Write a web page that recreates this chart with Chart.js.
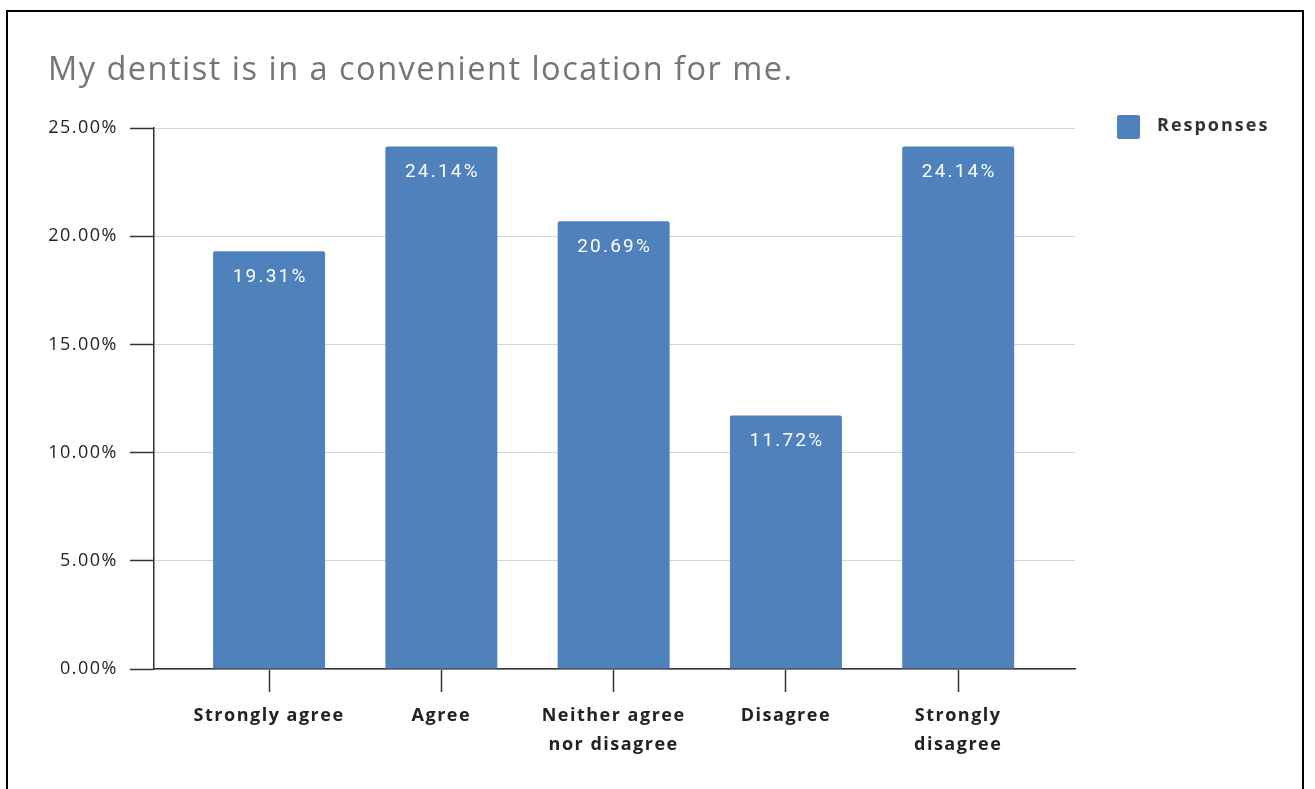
<!DOCTYPE html>
<html><head><meta charset="utf-8">
<script src="https://cdn.jsdelivr.net/npm/chart.js@4"></script>
<style>
html,body{margin:0;padding:0;background:#fff;overflow:hidden;width:1315px;height:789px;}
#frame{position:absolute;left:6px;top:10px;width:1298px;height:800px;border:2px solid #000;box-sizing:border-box;}
#wrap{position:absolute;left:8px;top:12px;width:1294px;height:777px;}
</style></head><body>
<div id="frame"></div>
<div id="wrap"><canvas id="c"></canvas></div>
<script>
const chartTitle = 'My dentist is in a convenient location for me.';
const seriesName = 'Responses';
const categories = [["Strongly agree"], ["Agree"], ["Neither agree", "nor disagree"], ["Disagree"], ["Strongly", "disagree"]];
const responses = [19.31, 24.14, 20.69, 11.72, 24.14];
const yTicks = [0, 5, 10, 15, 20, 25];
const barColor = '#4f81bd';

const spacing = {
  id: 'spacing',
  beforeLayout(chart) { chart.ctx.letterSpacing = '1.5px'; },
  beforeDraw(chart) { chart.ctx.letterSpacing = '1.5px'; }
};

const barLabels = {
  id: 'barLabels',
  afterDatasetsDraw(chart) {
    const ctx = chart.ctx;
    const meta = chart.getDatasetMeta(0);
    ctx.save();
    ctx.fillStyle = '#ffffff';
    ctx.font = '19px Roboto';
    ctx.letterSpacing = '2.2px';
    ctx.textAlign = 'center';
    ctx.textBaseline = 'middle';
    meta.data.forEach((bar, i) => {
      ctx.fillText(responses[i].toFixed(2) + '%', bar.x + 1, bar.y + 26);
    });
    ctx.restore();
  }
};

const sideLegend = {
  id: 'sideLegend',
  afterDraw(chart) {
    const ctx = chart.ctx;
    const ca = chart.chartArea;
    const ds = chart.data.datasets[0];
    ctx.save();
    ctx.fillStyle = ds.backgroundColor;
    ctx.beginPath();
    ctx.roundRect(ca.right + 42, ca.top - 13, 23, 24, 2);
    ctx.fill();
    ctx.fillStyle = '#333';
    ctx.font = 'bold 18px "Open Sans"';
    ctx.letterSpacing = '2px';
    ctx.textAlign = 'left';
    ctx.textBaseline = 'middle';
    ctx.fillText(ds.label, ca.right + 82, ca.top - 2);
    ctx.restore();
  }
};

new Chart(document.getElementById('c'), {
  type: 'bar',
  data: {
    datasets: [{
      label: seriesName,
      data: responses.map((v, i) => ({ x: i, y: v })),
      backgroundColor: barColor,
      borderRadius: 2,
      borderSkipped: 'bottom',
      categoryPercentage: 1,
      barPercentage: 0.65
    }]
  },
  options: {
    responsive: true,
    maintainAspectRatio: false,
    animation: false,
    layout: { padding: { left: 40, right: 227, top: 0, bottom: 0 } },
    plugins: {
      legend: { display: false },
      tooltip: { enabled: false },
      title: {
        display: true, text: chartTitle, align: 'start', color: '#757575',
        font: { family: 'Open Sans', size: 32.5, weight: 'normal', lineHeight: 1.2 },
        padding: { top: 39, bottom: 38 }
      }
    },
    scales: {
      x: {
        type: 'linear', min: -0.668, max: 4.678, offset: false,
        afterBuildTicks: s => { s.ticks = categories.map((c, i) => ({ value: i })); },
        ticks: {
          callback: v => categories[v], color: '#222', autoSkip: false, maxRotation: 0,
          font: { family: 'Open Sans', size: 18, weight: 'bold', lineHeight: 1.62 }, padding: 9
        },
        grid: { offset: false, drawOnChartArea: false, drawTicks: true, tickLength: 23, tickColor: '#333', tickWidth: 1.5 },
        border: { display: true, color: '#333', width: 1.5 },
        afterFit: s => { s.height = 120; }
      },
      y: {
        min: 0, max: 25,
        afterBuildTicks: s => { s.ticks = yTicks.map(v => ({ value: v })); },
        ticks: {
          callback: v => v.toFixed(2) + '%', color: '#222', padding: 12,
          font: { family: 'Open Sans', size: 18, weight: 'normal' }
        },
        grid: { color: '#d4d4d4', lineWidth: 1, tickColor: '#333', tickLength: 24, tickWidth: 1.5 },
        border: { display: true, color: '#333', width: 1.5 },
        afterFit: s => { s.width = 106; }
      }
    }
  },
  plugins: [spacing, barLabels, sideLegend]
});
</script>
</body></html>
